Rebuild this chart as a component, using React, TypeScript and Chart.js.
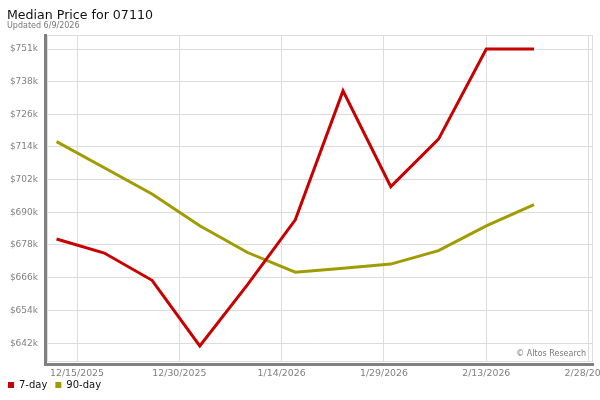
import React, { useEffect, useRef } from "react";
import { Chart, registerables } from "chart.js";

Chart.register(...registerables);

const weekDates = [
  "2025-12-12", "2025-12-19", "2025-12-26", "2026-01-02", "2026-01-09", "2026-01-16",
  "2026-01-23", "2026-01-30", "2026-02-06", "2026-02-13", "2026-02-20",
];
// median price, in $k
const sevenDay = [680.6, 675.4, 665.3, 641.0, 663.7, 687.7, 735.5, 700.0, 717.6, 751.0, 751.0];
const ninetyDay = [716.7, 707.0, 697.3, 685.5, 675.6, 668.3, 669.8, 671.3, 676.3, 685.5, 693.3];

const xTickDates = ["2025-12-15", "2025-12-30", "2026-01-14", "2026-01-29", "2026-02-13", "2026-02-28"];
const xTickLabels = ["12/15/2025", "12/30/2025", "1/14/2026", "1/29/2026", "2/13/2026", "2/28/2026"];
const yTickValues = [642.0, 654.1, 666.2, 678.4, 690.5, 702.6, 714.7, 726.8, 738.9, 751.0];
const yTickLabels = ["$642k", "$654k", "$666k", "$678k", "$690k", "$702k", "$714k", "$726k", "$738k", "$751k"];

const FONT = "'DejaVu Sans', sans-serif";
const DAY = 86400000;
const start = Date.parse(weekDates[0]);
const toDay = (d: string) => Math.round((Date.parse(d) - start) / DAY);
const xTickDays = xTickDates.map(toDay);

// header text, plot frame with its dark L-shaped edge, and credit line
const decor = {
  id: "decor",
  beforeDatasetsDraw(chart: Chart) {
    const { ctx, chartArea: a } = chart;
    ctx.save();
    ctx.strokeStyle = "#dcdcdc";
    ctx.lineWidth = 1;
    ctx.strokeRect(a.left + 0.5, a.top + 0.5, a.right - a.left, a.bottom - a.top);

    ctx.fillStyle = "#808080";
    ctx.fillRect(a.left - 3, a.top - 1, 3, a.bottom - a.top + 6);
    ctx.fillRect(a.left - 3, a.bottom + 2, a.right - a.left + 5, 3);

    ctx.textBaseline = "alphabetic";
    ctx.textAlign = "left";
    ctx.fillStyle = "#111";
    ctx.font = `12.6px ${FONT}`;
    ctx.fillText("Median Price for 07110", 7, 18.5);
    ctx.fillStyle = "#777";
    ctx.font = `8px ${FONT}`;
    ctx.fillText("Updated 6/9/2026", 7, 27.5);

    ctx.textAlign = "right";
    ctx.textBaseline = "middle";
    ctx.fillText("\u00a9 Altos Research", a.right - 6, a.bottom - 7);
    ctx.restore();
  },
};

export default function App() {
  const ref = useRef<HTMLCanvasElement>(null);

  useEffect(() => {
    document.body.style.margin = "0";
    const ctx = ref.current?.getContext("2d");
    if (!ctx) return;
    const chart = new Chart(ctx, {
      type: "line",
      data: {
        datasets: [
          {
            label: "7-day",
            data: sevenDay.map((v, i) => ({ x: toDay(weekDates[i]), y: v })),
            borderColor: "#c80000",
            backgroundColor: "#c80000",
            borderWidth: 3,
            pointRadius: 0,
          },
          {
            label: "90-day",
            data: ninetyDay.map((v, i) => ({ x: toDay(weekDates[i]), y: v })),
            borderColor: "#a09c00",
            backgroundColor: "#a09c00",
            borderWidth: 3,
            pointRadius: 0,
          },
        ],
      },
      options: {
        responsive: false,
        animation: false,
        devicePixelRatio: 1,
        layout: { padding: { left: 0, right: 8, top: 35, bottom: 0 } },
        scales: {
          x: {
            type: "linear",
            min: -1.4,
            max: 78.5,
            afterBuildTicks: (s) => {
              s.ticks = xTickDays.map((v) => ({ value: v }));
            },
            afterFit: (s) => {
              s.height = 11;
              s.paddingLeft = 0;
              s.paddingRight = 0;
            },
            grid: { color: "#dcdcdc", drawTicks: false },
            border: { display: false },
            ticks: {
              mirror: true,
              padding: -18,
              maxRotation: 0,
              autoSkip: false,
              color: "#808080",
              font: { family: FONT, size: 9.4 },
              callback: (v) => xTickLabels[xTickDays.indexOf(Number(v))] ?? "",
            },
          },
          y: {
            min: 635.4,
            max: 756.2,
            afterBuildTicks: (s) => {
              s.ticks = yTickValues.map((v) => ({ value: v }));
            },
            afterFit: (s) => {
              s.width = 47;
              s.paddingTop = 0;
              s.paddingBottom = 0;
            },
            grid: { color: "#dcdcdc", drawTicks: false },
            border: { display: false },
            ticks: {
              padding: 9,
              color: "#808080",
              font: { family: FONT, size: 9 },
              callback: (v) => yTickLabels[yTickValues.indexOf(Number(v))] ?? "",
            },
          },
        },
        plugins: {
          legend: {
            position: "bottom",
            align: "start",
            labels: {
              boxWidth: 6,
              boxHeight: 6,
              padding: 8,
              color: "#111",
              font: { family: FONT, size: 10 },
              generateLabels: (c) =>
                Chart.defaults.plugins.legend.labels
                  .generateLabels(c)
                  .map((l) => ({ ...l, lineWidth: 0 })),
            },
          },
          tooltip: { enabled: false },
        },
      },
      plugins: [decor],
    });
    return () => chart.destroy();
  }, []);

  return (
    <div style={{ width: 600, height: 400, background: "#fff" }}>
      <canvas ref={ref} width={600} height={400} />
    </div>
  );
}
